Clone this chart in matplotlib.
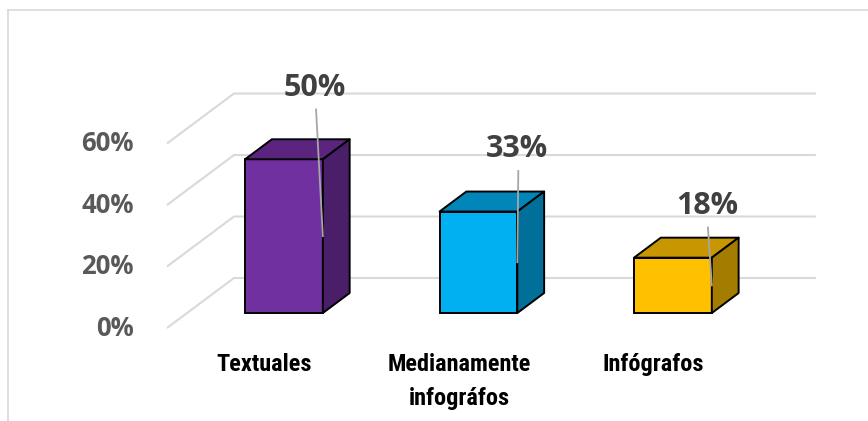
import matplotlib
matplotlib.use("Agg")
import matplotlib.pyplot as plt
from matplotlib.patches import Polygon
from matplotlib.lines import Line2D

# data
categories = ["Textuales", "Medianamente\ninfográfos", "Infógrafos"]
values = [50, 33, 18]
labels = ["50%", "33%", "18%"]
ticks = [0, 20, 40, 60]
tick_labels = ["0%", "20%", "40%", "60%"]

# colours (front, top, side)
front_cols = ["#7030A0", "#00B0F0", "#FFC000"]
top_cols = ["#5A247F", "#0086B9", "#C79600"]
side_cols = ["#4A1E69", "#006F9A", "#A47C00"]

# label offsets (dx, dy) relative to bar top
lab_off = [(0.16, 23.2), (0.20, 20.2), (0.175, 16.8)]

# oblique depth vector (x units, y units)
DX, DY = 0.3445, 16.26
bw = 0.4

fig = plt.figure(figsize=(8.68, 4.21), dpi=100)
ax = fig.add_axes([0, 0, 1, 1])
ax.set_xlim(-1.460, 3.003)
ax.set_ylim(-35.12, 101.8)
ax.axis("off")

# chart border
fig.add_artist(Line2D([0.0092, 0.0092], [0, 0.976], color="#d9d9d9", lw=1.2))
fig.add_artist(Line2D([0.0092, 1], [0.976, 0.976], color="#d9d9d9", lw=1.2))

# gridlines (floor + back wall)
x_left = -0.6015
x_right = 2.735
for t, tl in zip(ticks, tick_labels):
    y_front = t - 0.3 * DY
    y_back = t + 0.7 * DY
    ax.plot([x_left, x_left + DX, x_right], [y_front, y_back, y_back],
            color="#d9d9d9", lw=1.5, zorder=1, solid_capstyle="butt")
    ax.text(-0.771, y_front, tl, ha="right", va="center", fontsize=18.5,
            fontweight="bold", color="#595959", family="Open Sans")

# bars
x = list(range(len(values)))
ax.bar(x, values, width=bw, color=front_cols, edgecolor="black", lw=1.4, zorder=3)
dx, dy = 0.4 * DX, 0.4 * DY
for i, v in enumerate(values):
    l, r = i - bw / 2, i + bw / 2
    top = Polygon([(l, v), (r, v), (r + dx, v + dy), (l + dx, v + dy)],
                  closed=True, facecolor=top_cols[i], edgecolor="black", lw=1.4,
                  zorder=3, joinstyle="round")
    side = Polygon([(r, 0), (r + dx, dy), (r + dx, v + dy), (r, v)],
                   closed=True, facecolor=side_cols[i], edgecolor="black", lw=1.4,
                   zorder=3, joinstyle="round")
    ax.add_patch(top)
    ax.add_patch(side)

    # data label + leader line
    ox, oy = lab_off[i]
    ax.text(i + ox, v + oy, labels[i], ha="center", va="center", fontsize=22,
            fontweight="bold", color="#404040", family="Open Sans", zorder=5)
    ax.plot([i + ox + 0.005, r], [v + oy - 7, v / 2], color="#a6a6a6", lw=1.3, zorder=4)

    # category label
    ax.text(i - 0.1, -13.0, categories[i], ha="center", va="top", fontsize=17.5,
            fontweight="bold", color="black", linespacing=1.6, fontstretch="condensed",
            family=["DejaVu Sans Condensed", "Liberation Sans Narrow", "Roboto Condensed", "DejaVu Sans"])

fig.savefig("out.png", dpi=100)
